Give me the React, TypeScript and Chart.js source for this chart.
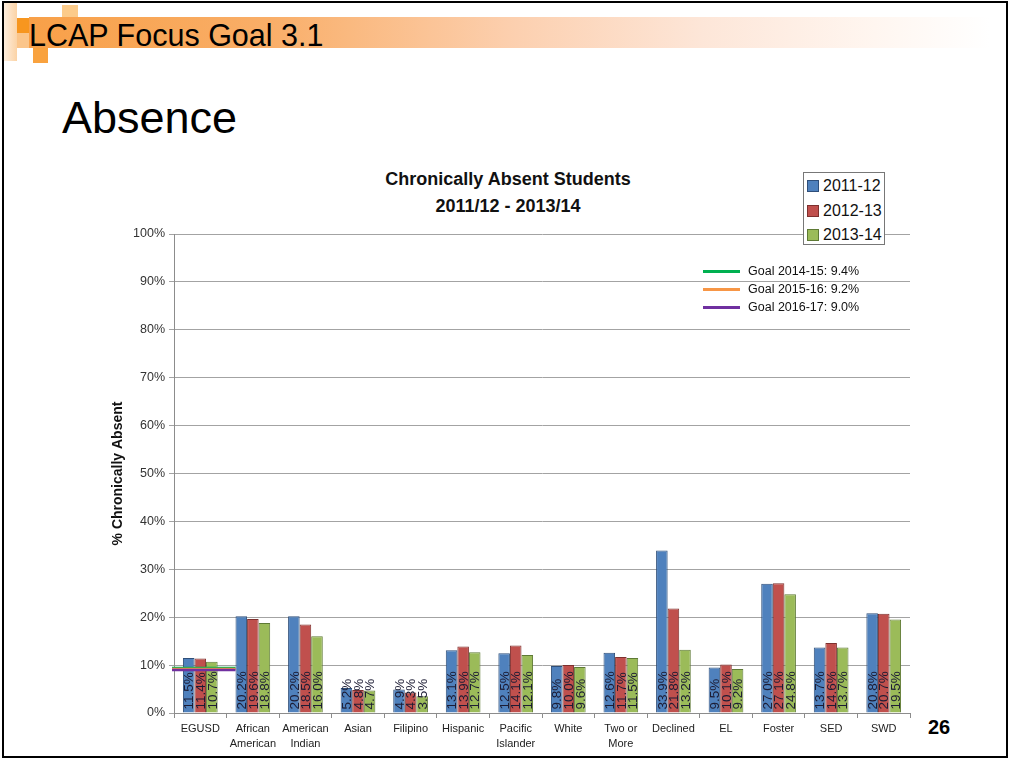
import React, { useEffect, useRef } from 'react';
import { Chart, registerables } from 'chart.js';

Chart.register(...registerables);

const categories: string[][] = [
  ['EGUSD'],
  ['African', 'American'],
  ['American', 'Indian'],
  ['Asian'],
  ['Filipino'],
  ['Hispanic'],
  ['Pacific', 'Islander'],
  ['White'],
  ['Two or', 'More'],
  ['Declined'],
  ['EL'],
  ['Foster'],
  ['SED'],
  ['SWD'],
];

const seriesNames = ['2011-12', '2012-13', '2013-14'];
const values2011 = [11.5, 20.2, 20.2, 5.2, 4.9, 13.1, 12.5, 9.8, 12.6, 33.9, 9.5, 27.0, 13.7, 20.8];
const values2012 = [11.4, 19.6, 18.5, 4.8, 4.3, 13.9, 14.1, 10.0, 11.7, 21.8, 10.1, 27.1, 14.6, 20.7];
const values2013 = [10.7, 18.8, 16.0, 4.7, 3.5, 12.7, 12.1, 9.6, 11.5, 13.2, 9.2, 24.8, 13.7, 19.5];

const goalValues = [9.4, 9.2, 9.0];
const goalLabels = ['Goal 2014-15: 9.4%', 'Goal 2015-16: 9.2%', 'Goal 2016-17: 9.0%'];

const fillColors = ['#4F81BD', '#C0504D', '#9BBB59'];
const borderColors = ['#2F4F7A', '#7E302E', '#5E7A35'];
const goalColors = ['#00B050', '#F79646', '#7030A0'];

const CAT_PCT = 0.66;
const FONT = '"Liberation Sans", Arial, sans-serif';

const labelPlugin = {
  id: 'barLabels',
  afterDatasetsDraw(chart: any) {
    const ctx = chart.ctx;
    ctx.save();
    ctx.font = `13.5px ${FONT}`;
    ctx.fillStyle = '#1c1c34';
    ctx.textAlign = 'left';
    ctx.textBaseline = 'middle';
    chart.data.datasets.forEach((ds: any, i: number) => {
      const meta = chart.getDatasetMeta(i);
      meta.data.forEach((bar: any, j: number) => {
        const p = bar.getProps(['x', 'base'], true);
        ctx.save();
        ctx.translate(p.x, p.base - 3);
        ctx.rotate(-Math.PI / 2);
        ctx.fillText(Number(ds.data[j]).toFixed(1) + '%', 0, 1);
        ctx.restore();
      });
    });
    ctx.restore();
  },
};

const goalPlugin = {
  id: 'goalLines',
  afterDatasetsDraw(chart: any) {
    const ctx = chart.ctx;
    const xs = chart.scales.x;
    const ys = chart.scales.y;
    const step = xs.getPixelForValue(1) - xs.getPixelForValue(0);
    const x1 = chart.chartArea.left - 2;
    const x2 = xs.getPixelForValue(1) - (step * CAT_PCT) / 2;
    ctx.save();
    goalValues.forEach((g, i) => {
      const y = ys.getPixelForValue(g);
      ctx.strokeStyle = goalColors[i];
      ctx.lineWidth = 2.5;
      ctx.beginPath();
      ctx.moveTo(x1, y);
      ctx.lineTo(x2, y);
      ctx.stroke();
    });
    ctx.restore();
  },
};

function ChartCanvas() {
  const ref = useRef<HTMLCanvasElement | null>(null);
  useEffect(() => {
    if (!ref.current) return;
    const chart = new Chart(ref.current, {
      type: 'bar',
      data: {
        labels: categories,
        datasets: [values2011, values2012, values2013].map((d, i) => ({
          label: seriesNames[i],
          data: d,
          backgroundColor: fillColors[i],
          borderColor: borderColors[i],
          borderWidth: 1,
          categoryPercentage: CAT_PCT,
          barPercentage: 1,
        })),
      },
      options: {
        responsive: false,
        animation: false,
        devicePixelRatio: 1,
        layout: { padding: { top: 74, right: 10, left: 0, bottom: 0 } },
        plugins: {
          legend: { display: false },
          title: { display: false },
          tooltip: { enabled: false },
        },
        scales: {
          x: {
            grid: {
              display: true,
              drawOnChartArea: false,
              drawTicks: true,
              tickLength: 5,
              color: '#8c8c8c',
              offset: true,
            },
            border: { display: true, color: '#8c8c8c' },
            ticks: {
              font: { family: FONT, size: 11, lineHeight: 1.35 },
              color: '#222',
              padding: 4,
              maxRotation: 0,
              autoSkip: false,
            },
            afterFit(scale: any) {
              scale.height = 42;
            },
          },
          y: {
            min: 0,
            max: 100,
            ticks: {
              stepSize: 10,
              font: { family: FONT, size: 12.5 },
              color: '#333',
              padding: 4,
              callback: (v: any) => v + '%',
            },
            grid: { color: '#a3a3a3', tickLength: 5, drawTicks: true },
            border: { display: true, color: '#8c8c8c' },
            title: {
              display: true,
              text: '% Chronically Absent',
              font: { family: FONT, size: 14, weight: 'bold' },
              color: '#111',
              padding: { top: 10, bottom: 0 },
            },
            afterFit(scale: any) {
              scale.width = 74;
            },
          },
        },
      } as any,
      plugins: [goalPlugin, labelPlugin],
    });
    return () => chart.destroy();
  }, []);
  return (
    <canvas
      ref={ref}
      width={820}
      height={595}
      style={{ position: 'absolute', left: 100, top: 160, width: 820, height: 595 }}
    />
  );
}

export default function App() {
  const abs = (s: React.CSSProperties): React.CSSProperties => ({ position: 'absolute', ...s });
  return (
    <div style={{ position: 'fixed', left: 0, top: 0, width: 1010, height: 759, background: '#fff', overflow: 'hidden', fontFamily: FONT }}>
      {/* header decoration */}
      <div style={abs({ left: 3, top: 3, width: 14, height: 58, background: 'linear-gradient(to right, #FEF0E2, #FBD3A6)' })} />
      <div style={abs({ left: 29, top: 17, width: 961, height: 31, background: 'linear-gradient(to right, #F8A048 0%, #F9AE68 25%, #FCCFAE 50%, #FDE6D8 70%, #FFF6F0 88%, rgba(255,255,255,0) 100%)' })} />
      <div style={abs({ left: 17, top: 33, width: 12, height: 15, background: '#FBC58A' })} />
      <div style={abs({ left: 17, top: 18, width: 12, height: 15, background: '#F7961F' })} />
      <div style={abs({ left: 33, top: 48, width: 15, height: 15, background: '#F9A23E' })} />
      <div style={abs({ left: 62, top: 5, width: 16, height: 12, background: '#FCCB8A' })} />
      <div style={abs({ left: 29, top: 17, fontFamily: 'Arial, "Liberation Sans", sans-serif', fontSize: 30.5, lineHeight: '36px', color: '#000', whiteSpace: 'nowrap' })}>
        LCAP Focus Goal 3.1
      </div>
      <div style={abs({ left: 62, top: 91, fontFamily: 'Arial, "Liberation Sans", sans-serif', fontSize: 45, lineHeight: '54px', color: '#000', whiteSpace: 'nowrap' })}>
        Absence
      </div>

      {/* chart title */}
      <div style={abs({ left: 308, width: 400, top: 166, textAlign: 'center', fontSize: 18, fontWeight: 'bold', lineHeight: '27px', color: '#111' })}>
        <div>Chronically Absent Students</div>
        <div>2011/12 - 2013/14</div>
      </div>

      <ChartCanvas />

      {/* series legend */}
      <div style={abs({ left: 803, top: 172, width: 82, height: 73, boxSizing: 'border-box', border: '1px solid #777', background: '#fff' })}>
        {seriesNames.map((n, i) => (
          <div key={n} style={abs({ left: 3, top: 3 + i * 24.5, height: 20, display: 'flex', alignItems: 'center', whiteSpace: 'nowrap' })}>
            <span style={{ display: 'inline-block', width: 10, height: 10, background: fillColors[i], border: `1px solid ${borderColors[i]}`, marginRight: 4 }} />
            <span style={{ fontSize: 16, color: '#111' }}>{n}</span>
          </div>
        ))}
      </div>

      {/* goal legend */}
      {goalLabels.map((g, i) => (
        <div key={g} style={abs({ left: 703, top: 263 + i * 18, height: 16, display: 'flex', alignItems: 'center', whiteSpace: 'nowrap' })}>
          <span style={{ display: 'inline-block', width: 37, height: 3, background: goalColors[i], marginRight: 8 }} />
          <span style={{ fontSize: 12.5, color: '#111' }}>{g}</span>
        </div>
      ))}

      <div style={abs({ left: 928, top: 715, fontFamily: 'Arial, "Liberation Sans", sans-serif', fontSize: 20, fontWeight: 'bold', lineHeight: '24px', color: '#000' })}>26</div>

      {/* slide frame */}
      <div style={abs({ left: 2, top: 1, width: 1006, height: 757, boxSizing: 'border-box', border: '2px solid #000', pointerEvents: 'none' })} />
    </div>
  );
}
